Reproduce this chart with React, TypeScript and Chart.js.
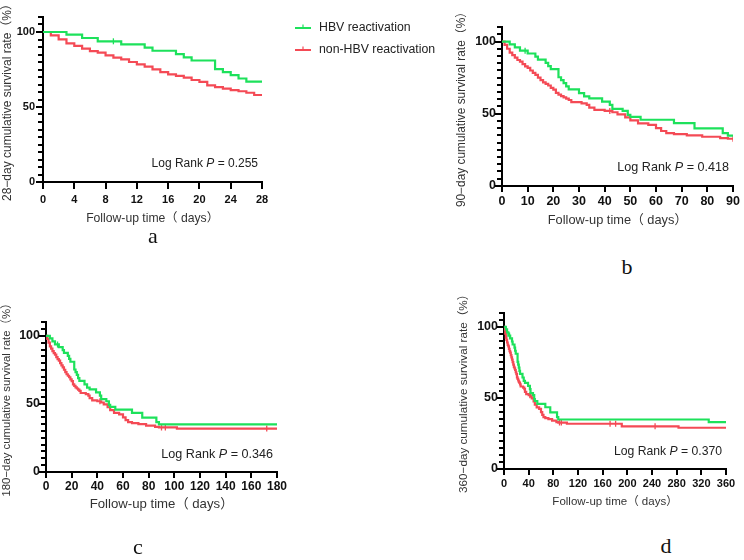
import React, { useEffect, useRef } from 'react';
import { Chart, registerables } from 'chart.js';

Chart.register(...registerables);

// ---------------- data ----------------
// HBV reactivation group: event times (days) and cumulative survival (%)
const hbvTime = [0, 3, 5, 7, 10, 13, 14, 17, 18, 19, 22, 23, 24, 25, 26, 30, 32, 34, 39, 42, 43, 47, 49, 50, 54, 67, 75, 86, 88, 332];
const hbvSurv = [100, 98.2, 96, 93.8, 91.8, 89.6, 87.5, 85.3, 83.1, 81, 75.3, 73.3, 71.3, 69, 66.9, 64.3, 62, 60.6, 58.4, 56.1, 53.4, 51.9, 49.2, 47.8, 45.8, 43.4, 39.8, 36.5, 34.8, 32.9];
const hbvCensor = [9];

// non-HBV reactivation group
const nonTime = [0, 1, 2, 3, 4, 5, 6, 7, 8, 9, 10, 11, 12, 13, 14, 15, 16, 17, 18, 19, 20, 21, 22, 23, 24, 25, 26, 27, 31, 33, 34, 36, 40, 43, 45, 48, 50, 53, 57, 60, 62, 64, 67, 72, 78, 85, 88, 102, 191, 283];
const nonSurv = [100, 97.8, 95.1, 92.4, 90.7, 88.9, 87.3, 86.2, 84.4, 82.9, 81.8, 80, 78.4, 76.9, 75.1, 73.3, 71.8, 70.7, 69.6, 68, 66.7, 64.4, 63.3, 62.2, 61.3, 60.5, 59.5, 58, 57.2, 56.1, 54.2, 52.6, 51.9, 51, 49.6, 47.5, 45.3, 43.3, 42.3, 40, 38, 36.5, 35.8, 35, 34, 33, 32.6, 31.8, 30, 29];
const nonCensor = [42, 90, 93, 172, 181, 245];

const panelDays = [28, 90, 180, 360];
const panelXStep = [4, 10, 20, 40];
const panelP = ['0.255', '0.418', '0.346', '0.370'];
const panelLetters = ['a', 'b', 'c', 'd'];
const yLabelTicks = [0, 50, 100];
const yAllTicks = [0, 5, 10, 15, 20, 25, 30, 35, 40, 45, 50, 55, 60, 65, 70, 75, 80, 85, 90, 95, 100, 105, 110];
const yMax = 110;
const pTextValue = 12.5;
const legendLabels = ['HBV reactivation', 'non-HBV reactivation'];
const xTitleText = 'Follow-up time（ days）';

// ---------------- styles / layout ----------------
const GREEN = '#1de15b';
const RED = '#f44a55';
const SANS = "'Liberation Sans', Arial, 'Noto Sans CJK SC', sans-serif";

type Layout = {
  left: number; top: number; width: number;
  area: { l: number; r: number; t: number; b: number };
  xTitleY: number; xTitleSize: number; yTitleSize: number;
  xTickSize: number; yTickSize: number;
  xTickLen: number; xTickPad: number; yTickLen: number; yTickPad: number;
  pSize: number; legend?: boolean;
};

const LAYOUT: Layout[] = [
  { left: 0, top: 0, width: 450, area: { l: 43, r: 262, t: 17, b: 182 }, xTitleY: 219, xTitleSize: 12.2, yTitleSize: 12, xTickSize: 11, yTickSize: 11, xTickLen: 6, xTickPad: 5, yTickLen: 5, yTickPad: 3, pSize: 12, legend: true },
  { left: 455, top: 0, width: 289, area: { l: 502, r: 733, t: 27.3, b: 185.7 }, xTitleY: 220, xTitleSize: 12.8, yTitleSize: 11.9, xTickSize: 12.5, yTickSize: 12.5, xTickLen: 5, xTickPad: 3, yTickLen: 5, yTickPad: 1, pSize: 12.6 },
  { left: 0, top: 295, width: 372, area: { l: 46, r: 277, t: 322.4, b: 471.7 }, xTitleY: 504, xTitleSize: 13.2, yTitleSize: 11.4, xTickSize: 12, yTickSize: 12.5, xTickLen: 5, xTickPad: 3, yTickLen: 5, yTickPad: 1, pSize: 12.6 },
  { left: 457, top: 290, width: 287, area: { l: 504, r: 726, t: 312.5, b: 469 }, xTitleY: 502, xTitleSize: 11.5, yTitleSize: 11.7, xTickSize: 11, yTickSize: 12.5, xTickLen: 5, xTickPad: 3, yTickLen: 5, yTickPad: 1, pSize: 12.2 },
];

const LEGEND = { x1: 295, x2: 311, textX: 319, rows: [28, 50], size: 12.3 };

const LETTERS = [
  { x: 153, baseline: 243 },
  { x: 627, baseline: 274 },
  { x: 138, baseline: 554 },
  { x: 666, baseline: 553 },
];

// ---------------- helpers ----------------
function stepSeries(times: number[], surv: number[], maxT: number) {
  const pts: { x: number; y: number }[] = [];
  for (let i = 0; i < times.length; i++) {
    if (times[i] <= maxT) pts.push({ x: times[i], y: surv[i] });
  }
  pts.push({ x: maxT, y: pts[pts.length - 1].y });
  return pts;
}

function survAt(times: number[], surv: number[], t: number) {
  let v = surv[0];
  for (let i = 0; i < times.length; i++) if (times[i] <= t) v = surv[i];
  return v;
}

function censorPoints(times: number[], surv: number[], cens: number[], maxT: number) {
  return cens.filter((t) => t <= maxT).map((t) => ({ x: t, y: survAt(times, surv, t) }));
}

function makeDecorPlugin(idx: number) {
  const L = LAYOUT[idx];
  return {
    id: 'kmDecor' + idx,
    afterDraw(chart: any) {
      const ctx = chart.ctx;
      const ys = chart.scales.y;
      const xs = chart.scales.x;
      const area = chart.chartArea;

      // axis tick marks (y: major + minor, x: major)
      ctx.save();
      ctx.fillStyle = '#000';
      const axisX = Math.round(area.left);
      yAllTicks.forEach((v) => {
        const major = yLabelTicks.includes(v);
        const len = major ? L.yTickLen + 1 : L.yTickLen - 1;
        const py = Math.round(ys.getPixelForValue(v));
        ctx.fillRect(axisX - 1 - len, py - 1, len, 2);
      });
      const axisY = Math.round(area.bottom);
      xs.ticks.forEach((t: any) => {
        const px = Math.round(xs.getPixelForValue(t.value));
        ctx.fillRect(px - 1, axisY, 2, L.xTickLen + 1);
      });
      ctx.restore();

      // Log Rank annotation
      const size = L.pSize;
      const y = ys.getPixelForValue(pTextValue);
      const right = area.right - 4;
      const parts = [
        { t: 'Log Rank ', f: `normal ${size}px ${SANS}` },
        { t: 'P', f: `italic ${size}px ${SANS}` },
        { t: ' = ' + panelP[idx], f: `normal ${size}px ${SANS}` },
      ];
      ctx.save();
      ctx.fillStyle = '#222';
      ctx.textBaseline = 'middle';
      ctx.textAlign = 'left';
      let total = 0;
      const widths = parts.map((p) => {
        ctx.font = p.f;
        const w = ctx.measureText(p.t).width;
        total += w;
        return w;
      });
      let x = right - total;
      parts.forEach((p, i) => {
        ctx.font = p.f;
        ctx.fillText(p.t, x, y);
        x += widths[i];
      });
      ctx.restore();

      // legend (panel a only)
      if (L.legend) {
        const colors = [GREEN, RED];
        ctx.save();
        LEGEND.rows.forEach((ry, i) => {
          ctx.strokeStyle = colors[i];
          ctx.lineWidth = 2;
          ctx.beginPath();
          ctx.moveTo(LEGEND.x1, ry);
          ctx.lineTo(LEGEND.x2, ry);
          ctx.stroke();
          const mx = (LEGEND.x1 + LEGEND.x2) / 2;
          ctx.lineWidth = 1.2;
          ctx.beginPath();
          ctx.moveTo(mx, ry - 3.5);
          ctx.lineTo(mx, ry);
          ctx.stroke();
          ctx.fillStyle = '#222';
          ctx.font = `normal ${LEGEND.size}px ${SANS}`;
          ctx.textBaseline = 'middle';
          ctx.textAlign = 'left';
          ctx.fillText(legendLabels[i], LEGEND.textX, ry);
        });
        ctx.restore();
      }
    },
  };
}

function Panel({ idx }: { idx: number }) {
  const ref = useRef<HTMLCanvasElement>(null);
  const L = LAYOUT[idx];
  const xLH = L.xTitleSize * 1.2;
  const height = Math.ceil(L.xTitleY + xLH / 2 - L.top) + 2;
  const xAxisH = L.top + height - L.area.b;
  const titlePadBottom = L.top + height - L.xTitleY - xLH / 2;

  useEffect(() => {
    const canvas = ref.current;
    if (!canvas) return;
    const maxT = panelDays[idx];

    const chart = new Chart(canvas, {
      type: 'line',
      data: {
        datasets: [
          {
            label: legendLabels[0],
            data: stepSeries(hbvTime, hbvSurv, maxT),
            borderColor: GREEN,
            backgroundColor: GREEN,
            borderWidth: 2.2,
            stepped: 'before',
            pointRadius: 0,
            fill: false,
          },
          {
            label: legendLabels[1],
            data: stepSeries(nonTime, nonSurv, maxT),
            borderColor: RED,
            backgroundColor: RED,
            borderWidth: 2.2,
            stepped: 'before',
            pointRadius: 0,
            fill: false,
          },
          {
            label: legendLabels[0] + ' censored',
            data: censorPoints(hbvTime, hbvSurv, hbvCensor, maxT),
            showLine: false,
            pointStyle: 'line',
            pointRotation: 90,
            pointRadius: 3,
            pointBorderWidth: 1.3,
            borderColor: GREEN,
            pointBorderColor: GREEN,
          },
          {
            label: legendLabels[1] + ' censored',
            data: censorPoints(nonTime, nonSurv, nonCensor, maxT),
            showLine: false,
            pointStyle: 'line',
            pointRotation: 90,
            pointRadius: 3,
            pointBorderWidth: 1.3,
            borderColor: RED,
            pointBorderColor: RED,
          },
        ],
      } as any,
      options: {
        responsive: false,
        animation: false,
        events: [],
        layout: {
          padding: {
            left: 0,
            top: L.area.t - L.top,
            right: L.left + L.width - L.area.r,
            bottom: 0,
          },
        },
        plugins: {
          legend: { display: false },
          tooltip: { enabled: false },
        },
        scales: {
          x: {
            type: 'linear',
            position: 'bottom',
            min: 0,
            max: maxT,
            ticks: {
              stepSize: panelXStep[idx],
              autoSkip: false,
              maxRotation: 0,
              color: '#111',
              padding: L.xTickPad,
              font: { family: SANS, size: L.xTickSize, weight: 'bold' },
            },
            grid: {
              display: false,
              drawOnChartArea: false,
              drawTicks: true,
              tickLength: L.xTickLen,
            },
            border: { display: true, color: '#000', width: 2 },
            title: {
              display: true,
              text: xTitleText,
              color: '#333',
              font: { family: SANS, size: L.xTitleSize },
              padding: { top: 0, bottom: titlePadBottom },
            },
            afterFit: (s: any) => {
              s.height = xAxisH;
            },
          },
          y: {
            type: 'linear',
            position: 'left',
            min: 0,
            max: yMax,
            afterBuildTicks: (s: any) => {
              s.ticks = yLabelTicks.map((v) => ({ value: v }));
            },
            ticks: {
              autoSkip: false,
              color: '#111',
              padding: L.yTickPad,
              font: { family: SANS, size: L.yTickSize, weight: 'bold' },
            },
            grid: {
              display: false,
              drawOnChartArea: false,
              drawTicks: true,
              tickLength: L.yTickLen,
            },
            border: { display: true, color: '#000', width: 2 },
            title: {
              display: true,
              text: `${panelDays[idx]}−day cumulative survival rate（%）`,
              color: '#333',
              font: { family: SANS, size: L.yTitleSize },
              padding: { top: 0, bottom: 0 },
            },
            afterFit: (s: any) => {
              s.width = L.area.l - L.left;
            },
          },
        },
      } as any,
      plugins: [makeDecorPlugin(idx)],
    });
    return () => chart.destroy();
  }, [idx]);

  return (
    <canvas
      ref={ref}
      width={L.width}
      height={height}
      style={{ position: 'absolute', left: L.left, top: L.top, width: L.width, height, display: 'block' }}
    />
  );
}

export default function App() {
  return (
    <div
      style={{
        position: 'absolute',
        left: 0,
        top: 0,
        width: 744,
        height: 560,
        background: '#fff',
        overflow: 'hidden',
      }}
    >
      {LAYOUT.map((_, i) => (
        <Panel key={i} idx={i} />
      ))}
      {LETTERS.map((p, i) => (
        <div
          key={'l' + i}
          style={{
            position: 'absolute',
            left: p.x,
            top: p.baseline - 18.4,
            transform: 'translateX(-50%)',
            fontFamily: "'Liberation Serif', 'Times New Roman', serif",
            fontSize: 22,
            lineHeight: '22px',
            color: '#111',
          }}
        >
          {panelLetters[i]}
        </div>
      ))}
    </div>
  );
}
